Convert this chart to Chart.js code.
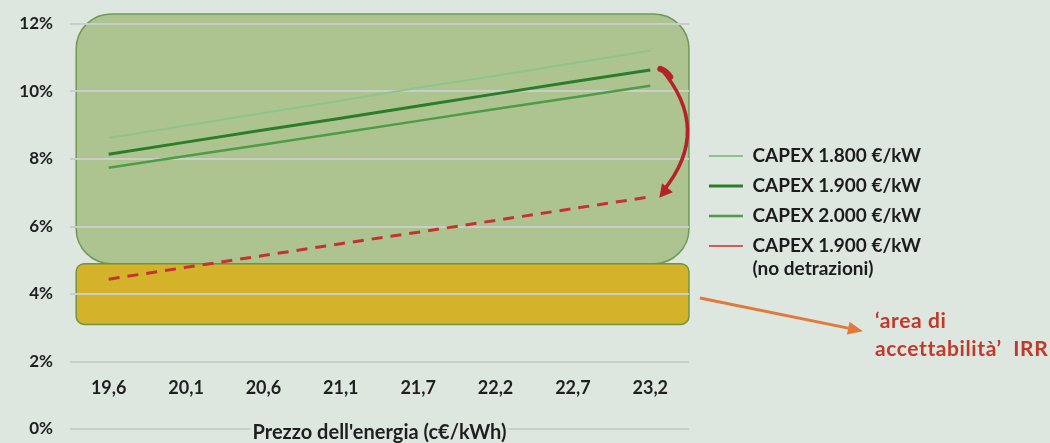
<!DOCTYPE html>
<html>
<head>
<meta charset="utf-8">
<script src="https://cdn.jsdelivr.net/npm/chart.js@4.4.1/dist/chart.umd.min.js"></script>
<style>
  html, body { margin: 0; padding: 0; background: #dee6e0; }
  #wrap { width: 1050px; height: 443px; position: relative; }
</style>
</head>
<body>
<div id="wrap"><canvas id="irr"></canvas></div>
<script>
// Energy price (c€/kWh) on the category axis
const prices = ['19,6', '20,1', '20,6', '21,1', '21,7', '22,2', '22,7', '23,2'];

// IRR (%) per CAPEX scenario
const capex1800 = [8.62, 8.99, 9.36, 9.73, 10.11, 10.47, 10.84, 11.21];
const capex1900 = [8.14, 8.50, 8.86, 9.21, 9.57, 9.93, 10.29, 10.64];
const capex2000 = [7.74, 8.09, 8.43, 8.78, 9.13, 9.48, 9.82, 10.17];
const capex1900NoDetr = [4.44, 4.79, 5.14, 5.49, 5.83, 6.18, 6.53, 6.88];

// IRR ranges shaded behind the lines (%)
const upperRange = [4.9, 12.3];
const acceptRange = [3.1, 4.9];

const seriesLabels = [
  'CAPEX 1.800 €/kW',
  'CAPEX 1.900 €/kW',
  'CAPEX 2.000 €/kW',
  ['CAPEX 1.900 €/kW', '(no detrazioni)']
];

const xTitle = "Prezzo dell'energia (c€/kWh)";
const BG = '#dee6e0';
const FONT = 'Lato, "Noto Sans", sans-serif';

Chart.defaults.font.family = FONT;

function roundedRect(ctx, x, y, w, h, r) {
  ctx.beginPath();
  ctx.moveTo(x + r, y);
  ctx.lineTo(x + w - r, y);
  ctx.arcTo(x + w, y, x + w, y + r, r);
  ctx.lineTo(x + w, y + h - r);
  ctx.arcTo(x + w, y + h, x + w - r, y + h, r);
  ctx.lineTo(x + r, y + h);
  ctx.arcTo(x, y + h, x, y + h - r, r);
  ctx.lineTo(x, y + r);
  ctx.arcTo(x, y, x + r, y, r);
  ctx.closePath();
}

// shaded IRR ranges, painted before the grid so grid lines sit on top
const rangeBoxes = {
  id: 'rangeBoxes',
  beforeDraw(chart) {
    const { ctx, scales: { x, y } } = chart;
    const left = x.getPixelForValue(-0.42);
    const right = x.getPixelForValue(7.5);
    ctx.save();
    ctx.lineWidth = 1.5;

    let top = y.getPixelForValue(upperRange[1]);
    let bottom = y.getPixelForValue(upperRange[0]);
    roundedRect(ctx, left, top, right - left, bottom - top, 35);
    ctx.fillStyle = '#aec490';
    ctx.fill();
    ctx.strokeStyle = '#6e9a58';
    ctx.stroke();

    top = y.getPixelForValue(acceptRange[1]);
    bottom = y.getPixelForValue(acceptRange[0]);
    roundedRect(ctx, left, top, right - left, bottom - top, 8);
    ctx.fillStyle = '#d4b22a';
    ctx.fill();
    ctx.strokeStyle = '#6f963f';
    ctx.stroke();
    ctx.restore();
  },
  // clear the 0% grid line behind the axis title (title is drawn afterwards)
  beforeDatasetsDraw(chart) {
    const { ctx, chartArea, scales: { y } } = chart;
    ctx.save();
    ctx.font = 'bold 20px ' + FONT;
    const w = ctx.measureText(xTitle).width;
    const cx = (chartArea.left + chartArea.right) / 2;
    const gy = y.getPixelForValue(0);
    ctx.fillStyle = BG;
    ctx.fillRect(cx - w / 2 - 2, gy - 4, w + 4, 8);
    ctx.restore();
  }
};

function arrowHead(ctx, tipX, tipY, dx, dy, len, half) {
  const n = Math.hypot(dx, dy);
  const ux = dx / n, uy = dy / n;
  const bx = tipX - ux * len, by = tipY - uy * len;
  ctx.beginPath();
  ctx.moveTo(tipX, tipY);
  ctx.lineTo(bx - uy * half, by + ux * half);
  ctx.lineTo(bx + uy * half, by - ux * half);
  ctx.closePath();
  ctx.fill();
}

// curved arrow between scenarios, pointer to the acceptability range and its caption
const callouts = {
  id: 'callouts',
  afterDraw(chart) {
    const { ctx, scales: { x, y }, chartArea } = chart;
    const last = prices.length - 1;
    const xl = x.getPixelForValue(last);
    ctx.save();

    // red curved arrow: with tax deductions -> without
    const y0 = y.getPixelForValue(capex1900[last]) - 2;
    const y1 = y.getPixelForValue(capex1900NoDetr[last]) - 6;
    const p0 = { x: xl + 10, y: y0 };
    const p2 = { x: xl + 13, y: y1 };
    const c = { x: xl + 63, y: (y0 + y1) / 2 };
    ctx.strokeStyle = '#b3232a';
    ctx.fillStyle = '#b3232a';
    ctx.lineCap = 'round';
    ctx.lineWidth = 3.5;
    ctx.beginPath();
    ctx.moveTo(p0.x, p0.y);
    ctx.quadraticCurveTo(c.x, c.y, p2.x, p2.y);
    ctx.stroke();
    ctx.lineWidth = 6;
    ctx.beginPath();
    ctx.moveTo(p0.x, p0.y + 1);
    ctx.quadraticCurveTo(p0.x + 6, p0.y + 3, p0.x + 10, p0.y + 9);
    ctx.stroke();
    arrowHead(ctx, p2.x - 4, p2.y + 7, p2.x - c.x, p2.y - c.y, 13, 7);

    // orange pointer
    const textX = chartArea.right + 186;
    const sx = chartArea.right + 11;
    const sy = y.getPixelForValue(3.88);
    const ex = textX - 12;
    const ey = y.getPixelForValue(2.9);
    ctx.strokeStyle = '#e07a3a';
    ctx.fillStyle = '#e07a3a';
    ctx.lineWidth = 3;
    ctx.lineCap = 'butt';
    const dx = ex - sx, dy = ey - sy;
    const n = Math.hypot(dx, dy);
    ctx.beginPath();
    ctx.moveTo(sx, sy);
    ctx.lineTo(ex - dx / n * 10, ey - dy / n * 10);
    ctx.stroke();
    arrowHead(ctx, ex, ey, dx, dy, 15, 6.5);

    // caption
    ctx.fillStyle = '#c0392b';
    ctx.font = 'bold 21px ' + FONT;
    ctx.letterSpacing = '0.6px';
    ctx.textAlign = 'left';
    ctx.textBaseline = 'middle';
    ctx.fillText('‘area di', textX, y.getPixelForValue(3.2));
    ctx.fillText('accettabilità’  IRR', textX, y.getPixelForValue(2.36));
    ctx.restore();
  }
};

const legendLineWidths = [2, 3, 2.5, 1.5];

new Chart(document.getElementById('irr'), {
  type: 'line',
  data: {
    labels: prices,
    datasets: [
      { label: seriesLabels[0], data: capex1800, borderColor: '#8cc48a', borderWidth: 2 },
      { label: seriesLabels[1], data: capex1900, borderColor: '#2b7d2b', borderWidth: 3 },
      { label: seriesLabels[2], data: capex2000, borderColor: '#4e9c47', borderWidth: 2.5 },
      { label: seriesLabels[3], data: capex1900NoDetr, borderColor: '#c53232', borderWidth: 3, borderDash: [11, 8] }
    ]
  },
  options: {
    responsive: true,
    maintainAspectRatio: false,
    animation: false,
    events: [],
    elements: { point: { radius: 0 }, line: { tension: 0 } },
    layout: { padding: { top: 24, bottom: 14, left: 0, right: 119 } },
    scales: {
      x: {
        type: 'category',
        position: { y: 1.6 },
        offset: true,
        grid: { display: false, drawTicks: false, z: 1 },
        border: { display: false },
        ticks: { color: '#1f1f1f', padding: 2, font: { size: 18, weight: 'bold' } },
        title: {
          display: true,
          text: xTitle,
          color: '#1f1f1f',
          font: { size: 20, weight: 'bold' },
          padding: { top: 20, bottom: 0 }
        }
      },
      y: {
        min: 0,
        max: 12,
        grid: { color: '#c9cec9', lineWidth: 2, drawTicks: true, tickLength: 17, tickColor: 'rgba(0,0,0,0)' },
        border: { display: false },
        ticks: {
          stepSize: 2,
          padding: 0,
          color: '#1f1f1f',
          font: { size: 17, weight: 'bold' },
          callback: v => v + '%'
        },
        afterFit(s) { s.width = 70; }
      },
      gap: {
        type: 'linear',
        position: 'right',
        grid: { display: false, drawTicks: false },
        border: { display: false },
        ticks: { display: false },
        afterFit(s) { s.width = 9; }
      }
    },
    plugins: {
      tooltip: { enabled: false },
      legend: {
        position: 'right',
        align: 'start',
        fullSize: false,
        maxWidth: 400,
        title: { display: true, text: '', font: { size: 10 }, padding: { top: 99.5, bottom: 0 } },
        labels: {
          usePointStyle: true,
          pointStyle: 'line',
          pointStyleWidth: 34,
          padding: 11,
          color: '#1c1c1c',
          font: { size: 19, weight: 'bold' },
          generateLabels(chart) {
            const items = Chart.defaults.plugins.legend.labels.generateLabels(chart);
            items.forEach((it, i) => {
              it.lineDash = [];
              it.lineWidth = legendLineWidths[i];
              it.pointStyle = 'line';
            });
            return items;
          }
        }
      }
    }
  },
  plugins: [rangeBoxes, callouts]
});
</script>
</body>
</html>
